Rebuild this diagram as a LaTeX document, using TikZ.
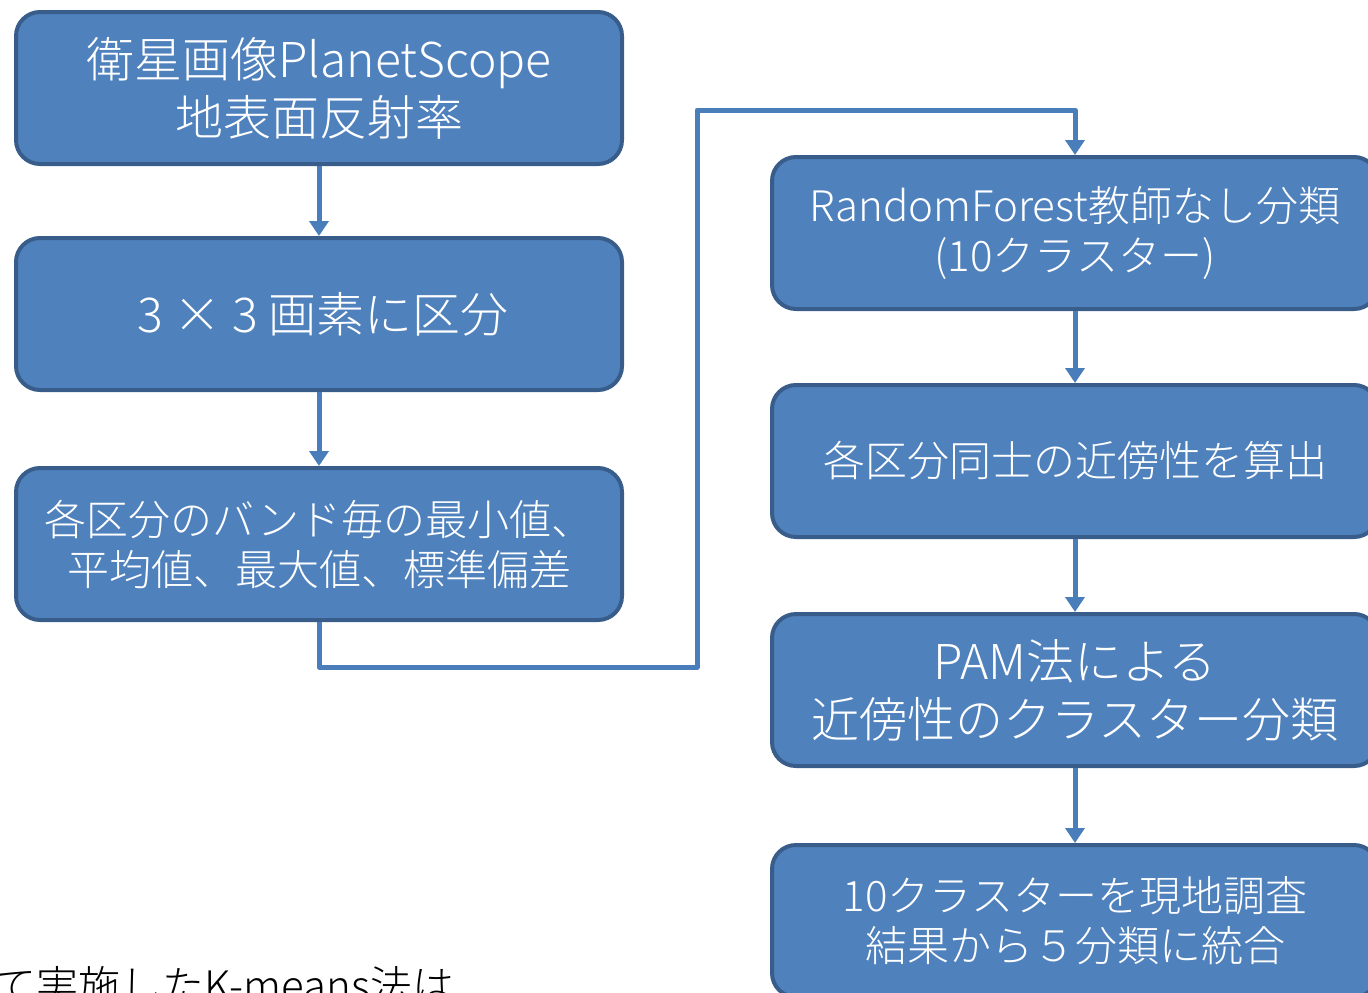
\documentclass[tikz,border=0pt]{standalone}
\usepackage{fontspec}
\setmainfont{Noto Sans CJK JP}[UprightFont=* Light]
\usetikzlibrary{arrows.meta}
\definecolor{boxfill}{HTML}{4F81BD}
\definecolor{boxline}{HTML}{385D8A}
\definecolor{arrowcol}{HTML}{4A7EBB}
\tikzset{
  flowbox/.style={draw=boxline, fill=boxfill, line width=4pt, rounded corners=24pt,
    minimum width=606pt, minimum height=152pt, inner sep=0pt, text=white,
    align=center},
  bigtext/.style={font=\fontsize{48pt}{58pt}\selectfont},
  smalltext/.style={font=\fontsize{42pt}{50pt}\selectfont},
  flow/.style={draw=arrowcol, line width=5pt, -{Triangle[width=19pt,length=15pt]}},
}
\begin{document}
\begin{tikzpicture}[x=1pt,y=-1pt]
\useasboundingbox (0,0) rectangle (1368,993);
\clip (0,0) rectangle (1368,993);
\node[flowbox,bigtext] (b1) at (319,88) {衛星画像PlanetScope\\地表面反射率};
\node[flowbox,bigtext] (b2) at (319,314) {\hspace*{8pt}3 × 3 画素に区分};
\node[flowbox,smalltext] (b3) at (319,544) {各区分のバンド毎の最小値、\\平均値、最大値、標準偏差};
\node[flowbox,smalltext] (b4) at (1075,233) {RandomForest教師なし分類\\(10クラスター)};
\node[flowbox,smalltext] (b5) at (1075,461) {各区分同士の近傍性を算出};
\node[flowbox,bigtext] (b6) at (1075,690) {PAM法による\\近傍性のクラスター分類};
\node[flowbox,smalltext] (b7) at (1075,921) {10クラスターを現地調査\\結果から５分類に統合};
\coordinate (c1) at (697,667);
\coordinate (c2) at (697,110);
\draw[flow] (b1) -- (b2);
\draw[flow] (b2) -- (b3);
\draw[flow, line join=round] (b3.south) |- (c1) -- (c2) -| (b4.north);
\draw[flow] (b4) -- (b5);
\draw[flow] (b5) -- (b6);
\draw[flow] (b6) -- (b7);
\node[anchor=base west, inner sep=0pt, font=\fontsize{42pt}{48pt}\selectfont] (note) at (-6,1001) {て実施したK-means法は};
\end{tikzpicture}
\end{document}
